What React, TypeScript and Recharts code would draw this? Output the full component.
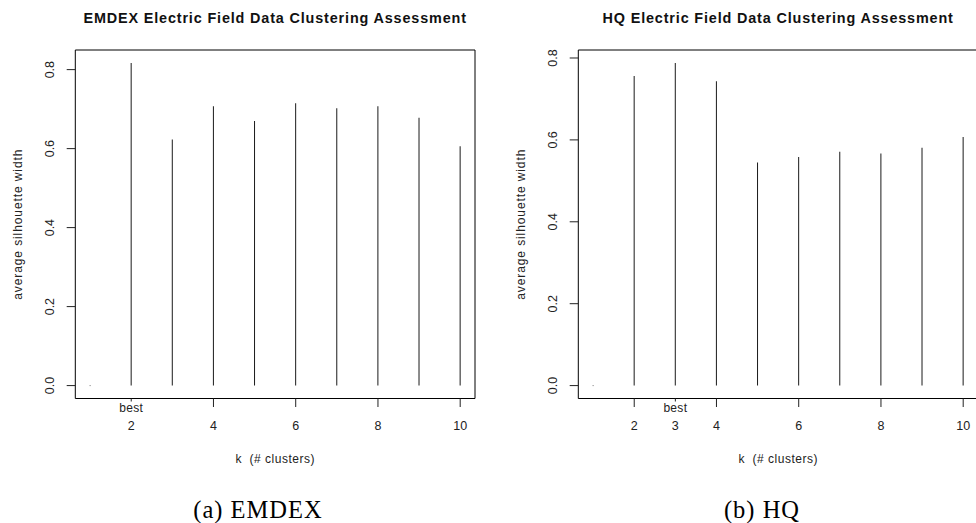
import React from 'react';
import { ComposedChart, Bar, Scatter, XAxis, YAxis, ReferenceArea } from 'recharts';

// ---- data ----
const kValues = [1, 2, 3, 4, 5, 6, 7, 8, 9, 10];
const emdexWidths = [0, 0.817, 0.623, 0.707, 0.67, 0.715, 0.702, 0.707, 0.678, 0.606];
const hqWidths = [0, 0.756, 0.788, 0.743, 0.545, 0.558, 0.571, 0.567, 0.581, 0.607];
const emdexXTicks = [2, 4, 6, 8, 10];
const hqXTicks = [2, 3, 4, 6, 8, 10];
const yTicks = [0, 0.2, 0.4, 0.6, 0.8];
const emdexBest = 2;
const hqBest = 3;
const emdexTitle = 'EMDEX Electric Field Data Clustering Assessment';
const hqTitle = 'HQ Electric Field Data Clustering Assessment';
const xLabel = 'k  (# clusters)';
const yLabel = 'average silhouette width';
const emdexCaption = '(a) EMDEX';
const hqCaption = '(b) HQ';

// ---- layout ----
const W = 976;
const H = 523;
const PLOT_TOP = 50;
const PLOT_BOTTOM = 398.5;
const Y_AXIS_W = 60;
const X_AXIS_H = 30;
const FONT = '"Liberation Sans", Arial, sans-serif';
const X_DOMAIN: [number, number] = [0.64, 10.36];

type PanelSpec = {
  values: number[];
  xTicks: number[];
  best: number;
  title: string;
  caption: string;
  chartLeft: number;
  chartWidth: number;
  plotLeft: number;
  plotRight: number;
  captionX: number;
};

const panels: PanelSpec[] = [
  {
    values: emdexWidths, xTicks: emdexXTicks, best: emdexBest, title: emdexTitle, caption: emdexCaption,
    chartLeft: 0, chartWidth: 488, plotLeft: 75.3, plotRight: 475, captionX: 258,
  },
  {
    values: hqWidths, xTicks: hqXTicks, best: hqBest, title: hqTitle, caption: hqCaption,
    chartLeft: 488, chartWidth: 490, plotLeft: 578.3, plotRight: 978, captionX: 762,
  },
];

const XTick = (props: any) => {
  const { x, y, payload, best } = props;
  const isBest = payload.value === best;
  return (
    <g>
      <line x1={x} x2={x} y1={y} y2={y + (isBest ? 3 : 8.5)} stroke="#222" strokeWidth={1} />
      {isBest && (
        <text x={x} y={y + 13.5} textAnchor="middle" fontSize={12} fontFamily={FONT} fill="#222" letterSpacing={0.3}>
          best
        </text>
      )}
      <text x={x} y={y + 31} textAnchor="middle" fontSize={12.5} fontFamily={FONT} fill="#222">
        {payload.value}
      </text>
    </g>
  );
};

const YTick = (props: any) => {
  const { x, y, payload } = props;
  const tx = x - 21;
  return (
    <g>
      <line x1={x - 8.6} x2={x} y1={y} y2={y} stroke="#222" strokeWidth={1} />
      <text
        x={tx}
        y={y}
        textAnchor="middle"
        fontSize={12.5}
        fontFamily={FONT}
        fill="#222"
        transform={`rotate(-90, ${tx}, ${y})`}
      >
        {payload.value.toFixed(1)}
      </text>
    </g>
  );
};

const Panel = ({ p }: { p: PanelSpec }) => {
  const rows = kValues.map((k, i) => ({ k, w: p.values[i] }));
  const zeros = rows.filter((r) => r.w === 0);
  const maxV = Math.max(...p.values);
  const yDomain: [number, number] = [-0.04 * maxV, 1.04 * maxV];
  const margin = {
    top: PLOT_TOP,
    bottom: H - PLOT_BOTTOM - X_AXIS_H,
    left: p.plotLeft - p.chartLeft - Y_AXIS_W,
    right: p.chartLeft + p.chartWidth - p.plotRight,
  };
  return (
    <div style={{ position: 'absolute', left: p.chartLeft, top: 0, width: p.chartWidth, height: H }}>
      <ComposedChart width={p.chartWidth} height={H} data={rows} margin={margin}>
        <XAxis
          dataKey="k"
          type="number"
          domain={X_DOMAIN}
          ticks={p.xTicks}
          interval={0}
          axisLine={false}
          tickLine={false}
          tickSize={0}
          tickMargin={0}
          height={X_AXIS_H}
          tick={<XTick best={p.best} />}
        />
        <YAxis
          type="number"
          domain={yDomain}
          ticks={yTicks}
          interval={0}
          axisLine={false}
          tickLine={false}
          tickSize={0}
          tickMargin={0}
          width={Y_AXIS_W}
          tick={<YTick />}
        />
        <ReferenceArea
          x1={X_DOMAIN[0]}
          x2={X_DOMAIN[1]}
          y1={yDomain[0]}
          y2={yDomain[1]}
          fill="none"
          fillOpacity={0}
          stroke="#000"
          strokeWidth={1}
          ifOverflow="visible"
        />
        <Bar dataKey="w" barSize={1} fill="#1a1a1a" isAnimationActive={false} />
        <Scatter
          data={zeros}
          dataKey="w"
          isAnimationActive={false}
          shape={(s: any) => <rect x={s.cx - 0.5} y={s.cy - 0.5} width={1} height={1} fill="#777" />}
        />
      </ComposedChart>
    </div>
  );
};

export default function App() {
  return (
    <div style={{ position: 'absolute', left: 0, top: 0, width: W, height: H, overflow: 'hidden', background: '#fff' }}>
      {panels.map((p, i) => (
        <Panel key={i} p={p} />
      ))}
      <svg width={W} height={H} style={{ position: 'absolute', left: 0, top: 0, pointerEvents: 'none' }}>
        {panels.map((p, i) => {
          const cx = (p.plotLeft + p.plotRight) / 2;
          const cy = (PLOT_TOP + PLOT_BOTTOM) / 2;
          const lx = p.plotLeft - 53;
          return (
            <g key={i}>
              <text x={cx} y={22.5} textAnchor="middle" fontSize={14.4} fontWeight="bold" fontFamily={FONT} fill="#111" letterSpacing={0.85}>
                {p.title}
              </text>
              <text x={cx} y={463} textAnchor="middle" fontSize={12} fontFamily={FONT} fill="#222" letterSpacing={0.5} style={{ whiteSpace: 'pre' }}>
                {xLabel}
              </text>
              <text
                x={lx}
                y={cy}
                textAnchor="middle"
                fontSize={12}
                fontFamily={FONT}
                fill="#222"
                letterSpacing={0.9}
                transform={`rotate(-90, ${lx}, ${cy})`}
              >
                {yLabel}
              </text>
              <text x={p.captionX} y={518} textAnchor="middle" fontSize={24.5} fontFamily='"Liberation Serif", "Times New Roman", serif' fill="#000" letterSpacing={1}>
                {p.caption}
              </text>
            </g>
          );
        })}
      </svg>
    </div>
  );
}
